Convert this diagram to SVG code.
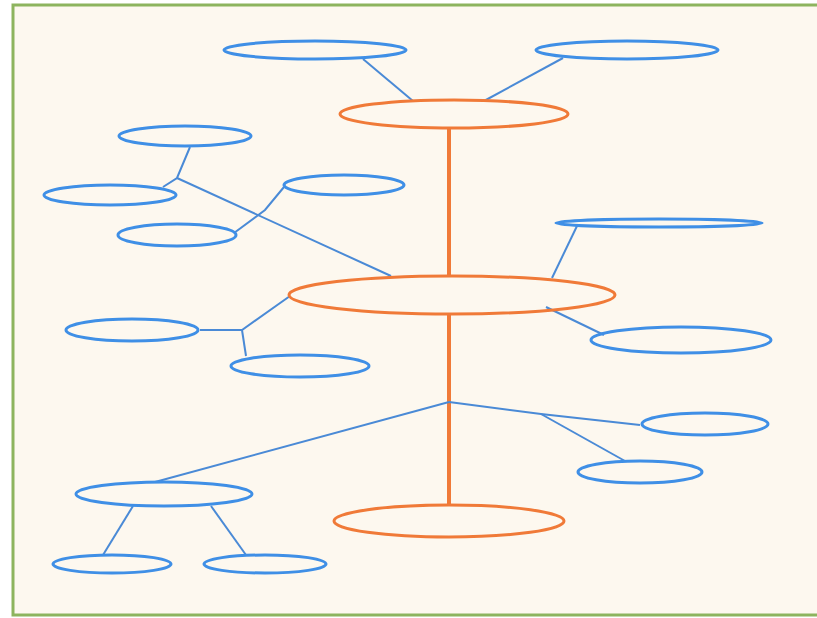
<svg xmlns="http://www.w3.org/2000/svg" width="817" height="618" viewBox="0 0 817 618">
<style>
.bg{fill:#fdf8ef;stroke:#8db45e;stroke-width:3}
.o{fill:none;stroke:#f07a38;stroke-width:3}
.b{fill:none;stroke:#3f8fe6;stroke-width:3}
.ol{stroke:#f07a38;stroke-width:4;fill:none}
.bl{stroke:#4a8ad6;stroke-width:2;fill:none}
</style>
<rect class="bg" x="13" y="5" width="806" height="610"/>
<g id="connectors">
<line class="ol" x1="449" y1="128" x2="449" y2="275"/>
<line class="ol" x1="449" y1="314" x2="449" y2="505"/>
<line class="bl" x1="363" y1="59" x2="413" y2="101"/>
<line class="bl" x1="563" y1="58" x2="484" y2="101"/>
<polyline class="bl" points="190,147 177,178 163,187"/>
<line class="bl" x1="177" y1="178" x2="391" y2="276"/>
<polyline class="bl" points="284,187 265,210 234,233"/>
<line class="bl" x1="577" y1="226" x2="552" y2="278"/>
<polyline class="bl" points="290,296 242,330 200,330"/>
<line class="bl" x1="242" y1="330" x2="246" y2="356"/>
<line class="bl" x1="546" y1="307" x2="604" y2="335"/>
<line class="bl" x1="449" y1="402" x2="155" y2="482"/>
<polyline class="bl" points="449,402 541,414 640,425"/>
<line class="bl" x1="541" y1="414" x2="625" y2="461"/>
<line class="bl" x1="133" y1="506" x2="103" y2="555"/>
<line class="bl" x1="211" y1="506" x2="246" y2="555"/>
</g>
<g id="top"><ellipse class="o" cx="454" cy="114" rx="114" ry="14"/></g>
<g id="middle"><ellipse class="o" cx="452" cy="295" rx="163" ry="19"/></g>
<g id="bottom"><ellipse class="o" cx="449" cy="521" rx="115" ry="16"/></g>
<g id="n1"><ellipse class="b" cx="315" cy="50" rx="91" ry="9"/></g>
<g id="n2"><ellipse class="b" cx="627" cy="50" rx="91" ry="9"/></g>
<g id="n3"><ellipse class="b" cx="185" cy="136" rx="66" ry="10"/></g>
<g id="n4"><ellipse class="b" cx="110" cy="195" rx="66" ry="10"/></g>
<g id="n5"><ellipse class="b" cx="344" cy="185" rx="60" ry="10"/></g>
<g id="n6"><ellipse class="b" cx="177" cy="235" rx="59" ry="11"/></g>
<g id="n7"><ellipse class="b" cx="659" cy="223" rx="103" ry="4"/></g>
<g id="n8"><ellipse class="b" cx="132" cy="330" rx="66" ry="11"/></g>
<g id="n9"><ellipse class="b" cx="300" cy="366" rx="69" ry="11"/></g>
<g id="n10"><ellipse class="b" cx="681" cy="340" rx="90" ry="13"/></g>
<g id="n11"><ellipse class="b" cx="705" cy="424" rx="63" ry="11"/></g>
<g id="n12"><ellipse class="b" cx="640" cy="472" rx="62" ry="11"/></g>
<g id="n13"><ellipse class="b" cx="164" cy="494" rx="88" ry="12"/></g>
<g id="n14"><ellipse class="b" cx="112" cy="564" rx="59" ry="9"/></g>
<g id="n15"><ellipse class="b" cx="265" cy="564" rx="61" ry="9"/></g>
</svg>
